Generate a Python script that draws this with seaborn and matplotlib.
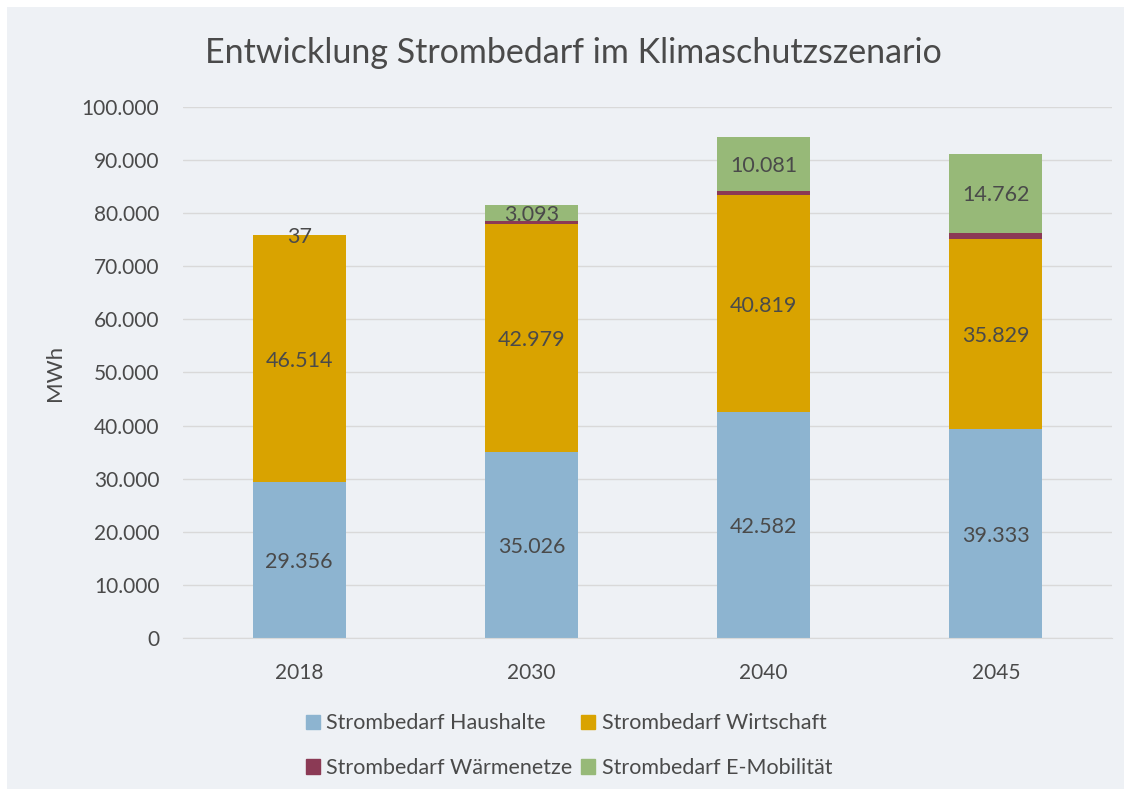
import numpy as np
import matplotlib.pyplot as plt
import matplotlib.patches as mpatches
import seaborn as sns
from matplotlib.ticker import FuncFormatter

years = ["2018", "2030", "2040", "2045"]
haushalte = [29356, 35026, 42582, 39333]
wirtschaft = [46514, 42979, 40819, 35829]
waermenetze = [0, 500, 870, 1200]
emobilitaet = [37, 3093, 10081, 14762]

series_names = ["Strombedarf Haushalte", "Strombedarf Wirtschaft",
                "Strombedarf Wärmenetze", "Strombedarf E-Mobilität"]
series_vals = [haushalte, wirtschaft, waermenetze, emobilitaet]
colors = ["#8DB4D0", "#D9A300", "#8B3A55", "#97B978"]
show_label = [True, True, False, True]

bg = "#EEF1F5"
txt = "#4A4A4A"

sns.set_style("white")
plt.rcParams["font.family"] = ["Lato", "DejaVu Sans"]

fig = plt.figure(figsize=(11.31, 7.96), dpi=100, facecolor="white")
fig.patches.append(mpatches.Rectangle((7 / 1131, 7 / 796), 1117 / 1131, 782 / 796,
                                      transform=fig.transFigure, facecolor=bg,
                                      edgecolor="none", zorder=-5))
ax = fig.add_axes([0.1618, 0.1985, 0.8214, 0.6671])
ax.set_facecolor(bg)

cum = np.cumsum(np.array(series_vals), axis=0)
# draw stacked bars back to front: tallest cumulative first
for i in range(len(series_vals) - 1, -1, -1):
    sns.barplot(x=years, y=cum[i], color=colors[i], width=0.4, ax=ax,
                saturation=1, zorder=2, linewidth=0)

# data labels
for i, vals in enumerate(series_vals):
    if not show_label[i]:
        continue
    for j, v in enumerate(vals):
        base = cum[i][j] - v
        y = base + v / 2
        ax.text(j, y, f"{v:,}".replace(",", "."), ha="center", va="center_baseline",
                fontsize=15.5, color=txt, zorder=5)

ax.set_ylim(0, 100000)
ax.set_xlim(-0.5, 3.5)
ax.set_yticks(np.arange(0, 100001, 10000))
ax.yaxis.set_major_formatter(FuncFormatter(lambda v, p: f"{int(v):,}".replace(",", ".")))
ax.grid(axis="y", color="#D9D9D9", linewidth=1, zorder=0)
ax.set_axisbelow(True)
for s in ax.spines.values():
    s.set_visible(False)
ax.spines["bottom"].set_visible(True)
ax.spines["bottom"].set_color("#D9D9D9")
ax.tick_params(axis="both", length=0, labelsize=15, colors=txt)
ax.tick_params(axis="x", pad=18)
ax.tick_params(axis="y", pad=17)
ax.set_xlabel("")
ax.set_ylabel("MWh", fontsize=16, color=txt, labelpad=12)

fig.text(0.507, 0.933, "Entwicklung Strombedarf im Klimaschutzszenario",
         ha="center", va="center", fontsize=24.5, color=txt)

# column-wise fill: col 1 = Haushalte, Wärmenetze; col 2 = Wirtschaft, E-Mobilität
order = [0, 2, 1, 3]
handles = [mpatches.Patch(color=colors[k], label=series_names[k]) for k in order]
leg = fig.legend(handles=handles, ncol=2, loc="center", bbox_to_anchor=(0.503, 0.063),
                 frameon=False, fontsize=15.5, handlelength=0.65, handleheight=0.65,
                 handletextpad=0.3, columnspacing=0.4, labelspacing=1.15, labelcolor=txt)

fig.savefig("out.png", dpi=100, facecolor="white")
